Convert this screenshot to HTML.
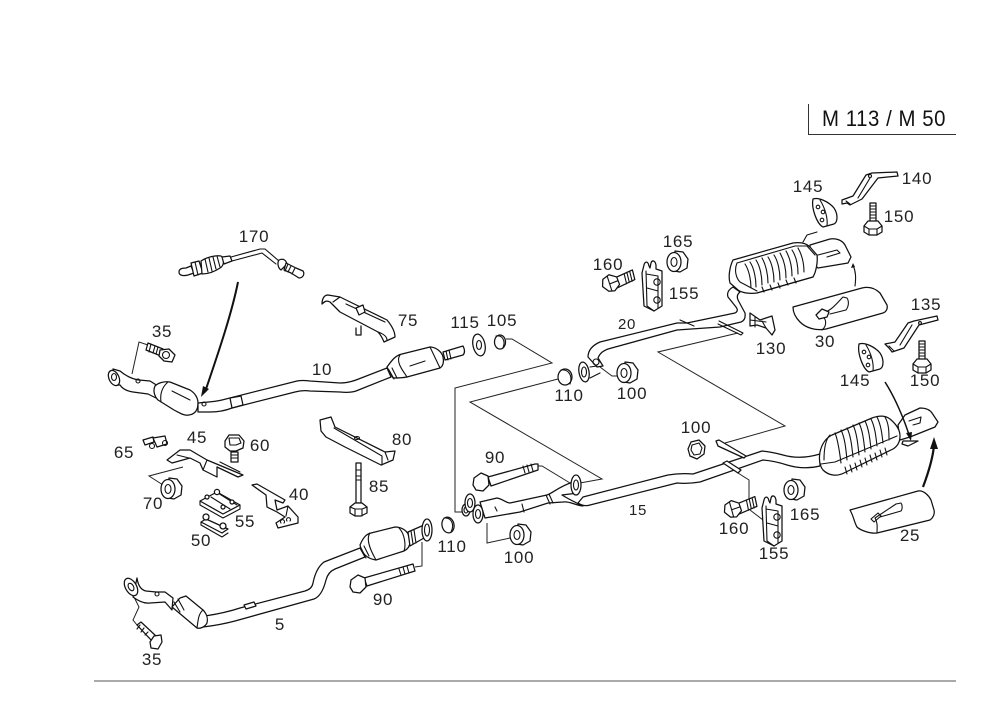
<!DOCTYPE html>
<html lang="en">
<head>
<meta charset="utf-8">
<title>M 113 / M 50 exhaust diagram</title>
<style>
html,body{margin:0;padding:0;background:#fff}
svg{display:block}
.p{fill:#fff;stroke:#111;stroke-width:1.25;stroke-linejoin:round;stroke-linecap:round}
.l{fill:none;stroke:#111;stroke-width:1.1;stroke-linejoin:round;stroke-linecap:round}
.c{fill:none;stroke:#222;stroke-width:1;stroke-linejoin:miter}
.t{font:17px "Liberation Sans",sans-serif;fill:#222;text-anchor:middle;letter-spacing:.7px}
</style>
</head>
<body>
<svg width="1000" height="707" viewBox="0 0 1000 707" xmlns="http://www.w3.org/2000/svg">
<defs>
<g id="nut"><polygon class="p" points="-2,-11 6,-10 11,-3 10,6 3,10 -3,9"/><ellipse class="p" cx="-3" cy="0" rx="7" ry="9.5"/><ellipse class="l" cx="-3" cy="0" rx="3" ry="4.5"/></g>
<g id="bolt"><path class="p" d="M0-4 L22-8 V2 L2 6Z"/><path class="l" d="M13-6V4M16-7V3M19-7V3"/><polygon class="p" points="-9,-6 -2,-9 5,-5 6,3 0,8 -6,7 -11,1"/><path class="l" d="M-4-8 L-3 7M-3 0 L5 -1"/></g>
<g id="iso"><path class="p" d="M-12-13 C-6-15 4-10 9-4 C13 2 13 10 9 12 L-2 15 C-8 12 -14-4 -12-13Z"/><path class="l" d="M-5-12 C0-4 3 6 2 14"/><circle class="l" cx="-7" cy="-5" r="1.8"/><circle class="l" cx="-2" cy="0" r="1.8"/><circle class="l" cx="-3" cy="8" r="1.8"/></g>
<g id="stud"><path class="p" d="M-3-21H3V0H-3Z"/><path class="l" d="M-3-18H3M-3-15H3M-3-12H3M-3-9H3M-3-6H3M-3-3H3"/><path class="p" d="M-9 2 L-5-3H5L9 2V8L4 11H-4L-9 8Z"/><path class="l" d="M-9 2 L-4 5H4L9 2M-4 5V11M4 5V11"/></g>
<g id="clamp"><path class="p" d="M0 3 L2-5 C3-9 6-9 7-4 L8-2 L9-7 C10-10 13-10 14-5 L14-1 L20 1 V36 L12 41 L2 36Z"/><path class="l" d="M4 1 L5 36 L12 41 M4 4 L16 6 V38 M5 18 L16 21"/><circle class="l" cx="15" cy="12" r="3.2"/><circle class="l" cx="15" cy="30" r="3.2"/></g>
</defs>

<!-- header and frame -->
<path d="M808.5 104V134.5H956" fill="none" stroke="#333" stroke-width="1"/>
<text x="884" y="126" style="font:22px 'Liberation Sans',sans-serif;fill:#111;text-anchor:middle;letter-spacing:.6px" textLength="124" lengthAdjust="spacingAndGlyphs">M 113 / M 50</text>
<line x1="94" y1="681" x2="956" y2="681" stroke="#555" stroke-width="1"/>

<!-- 170 sensor -->
<path class="p" d="M179 272 C179 269 182 268 186 268 L191 266 L194 273 L188 275 C184 276 179 276 179 272Z"/>
<path class="p" d="M191 263 L199 261 L203 273 L194 276Z"/>
<path class="l" d="M195 262 L198 275"/>
<path class="p" d="M201 261 C207 257 216 255 221 256 C225 258 224 266 220 268 C214 272 207 274 202 274Z"/>
<path class="l" d="M205 259 L208 272M209 258 L212 271M213 257 L216 269M217 256 L220 267"/>
<path class="p" d="M222 257 L230 256 L232 261 L224 264Z"/>
<path class="l" d="M231 257 L260 249 L265 249 L279 261 M232 261 L262 253 L276 264"/>
<path class="p" d="M279 260 C283 258 286 260 287 264 L281 270 C278 268 277 263 279 260Z"/>
<path class="p" d="M286 263 L296 268 L303 271 C305 274 303 278 299 278 L291 273 L284 270Z"/>
<path class="l" d="M288 264 L285 271M291 266 L288 272M295 268 L292 274"/>
<!-- big arrow to 10 -->
<path d="M238 282 C232 312 220 348 205 392" fill="none" stroke="#111" stroke-width="2"/>
<polygon points="201,397 203,386 209,389" fill="#111"/>

<!-- 35 top -->
<path class="c" d="M132 374 L139 342 L148 345"/>
<path class="p" d="M148 343 L163 349 L161 356 L146 350Z"/><path class="l" d="M151 344 L149 352M155 346 L153 353M158 347 L156 354"/>
<polygon class="p" points="160,350 169,349 175,355 172,362 164,361 159,356"/><ellipse class="l" cx="166" cy="355" rx="3.5" ry="3.5"/>

<!-- pipe 10 -->
<path class="p" d="M113 369 L120 371 C126 376 132 379 139 380 L150 381 L158 386 L156 398 L148 394 L133 392 C126 391 122 388 120 385 L116 385Z"/>
<ellipse class="p" cx="114" cy="378" rx="5" ry="8" transform="rotate(-25 114 378)"/><ellipse class="l" cx="114" cy="377" rx="2.5" ry="3.5"/>
<circle class="l" cx="138" cy="381" r="2"/>
<path class="p" d="M155 386 C158 383 164 381 170 382 L190 390 C195 393 198 398 198 403 C198 409 196 414 189 415 C184 416 180 413 174 410 L158 400 C154 396 153 390 155 386Z"/>
<path class="l" d="M168 382 C161 388 160 395 161 402M172 391 L190 400"/>
<path class="p" d="M198 403 C206 402 214 402 222 400 L297 381 Q302 380 310 381 L340 383 Q348 383 356 380 L387 368 L391 377 L356 391 Q350 393 340 392 L310 391 Q302 390 295 392 L232 408 Q222 412 210 412 L198 412Z"/>
<circle class="l" cx="204" cy="404" r="2"/>
<path class="p" d="M230 398 L241 396 L243 405 L232 408Z"/>
<path class="p" d="M387 367 C392 360 396 355 402 354 L430 347 C436 347 442 352 443 357 C444 362 443 366 440 368 L407 377 C402 378 396 378 393 378Z"/>
<path class="l" d="M400 355 C395 362 404 372 407 377M389 370 L394 379M392 368 L397 378M410 366 L425 361M430 347 L440 368"/>
<path class="p" d="M443 352 L463 346 C465 350 465 353 463 355 L445 360Z"/>
<path class="l" d="M446 351 L448 360M449 350 L451 359"/>

<!-- 115, 105 -->
<ellipse class="p" cx="479" cy="345" rx="6" ry="11" transform="rotate(-12 479 345)"/><ellipse class="l" cx="479" cy="345" rx="2.5" ry="4.5"/>
<ellipse class="p" cx="500" cy="342" rx="5.5" ry="7"/><path class="l" d="M496 336 C502 335 506 340 503 348"/>
<!-- connectors centre -->
<path class="c" d="M506 339 L512 339 L552 363 L455 388 L455 512 L463 512"/>
<path class="c" d="M558 379 L470 402 L602 479 L580 483"/>
<path class="c" d="M738 333 L658 352 L785 426 L725 443"/>
<path class="c" d="M600 367 L612 376 L617 376"/>
<path class="c" d="M538 466 L542 466 L570 483"/>
<path class="c" d="M487 523 V543 L510 538"/>
<path class="c" d="M422 542 V566 L415 567"/>
<path class="c" d="M738 473 L749 480 V500"/>
<path class="c" d="M750 510 L763 520"/>
<path class="c" d="M183 467 L149 476 L163 485"/>
<path class="c" d="M133 595 L139 607 L133 620 L137 625"/>

<!-- 75 -->
<path class="p" d="M322 304 C322 299 324 295 328 295 L340 297 L387 320 C392 326 395 332 395 337 L384 342 C382 337 380 334 378 332 L340 312 L330 302 C326 300 324 302 322 304Z"/>
<path class="l" d="M340 297 L333 302M346 304 L385 322 M378 332 C384 334 387 337 387 340"/>
<path class="p" d="M356 308 L363 305 L365 312 L359 315Z"/>
<path class="p" d="M356 328 V335 H361 V326"/>

<!-- 80 -->
<path class="p" d="M320 420 L331 417 L335 427 L385 452 L395 451 L393 460 L381 465 L345 447 L326 437 L321 431Z"/>
<path class="l" d="M334 428 L382 456 L382 465M385 452 L388 460"/>
<ellipse class="l" cx="357" cy="438" rx="2.5" ry="1.5"/>

<!-- 85 -->
<path class="p" d="M356 463 H361 V503 H356Z"/>
<path class="l" d="M356 470H361M356 476H361M356 480H361"/>
<path class="p" d="M350 507 L355 503 H362 L367 507 V513 L361 516 H355 L350 513Z"/>
<path class="l" d="M350 507 L355 509 H362 L367 507M355 509V516M362 509V516"/>

<!-- 65 -->
<path class="p" d="M143 440 L153 437 L154 442 L145 445Z M153 438 L165 436 L167 444 L157 447Z"/>
<circle class="l" cx="152" cy="446" r="2.5"/><circle class="l" cx="165" cy="443" r="2.5"/>

<!-- 45 -->
<path class="p" d="M167 460 L180 450 L190 450 L207 460 L243 475 L238 477 L217 467 L217 477 L203 470 L200 463 L190 458 L172 463Z"/>
<path class="l" d="M207 460 L203 470M177 455 L189 458M220 462 L240 472"/>
<!-- 60 -->
<path class="p" d="M231 452 H238 V462 H231Z"/><path class="l" d="M231 455H238M231 458H238"/>
<path class="p" d="M225 441 L229 435 H239 L244 441 L243 448 L236 451 H230 L225 447Z"/><path class="l" d="M229 438 H239 L241 443 L236 445 H230 Z"/>
<!-- 70 -->
<use href="#nut" x="171" y="489"/>
<!-- 40 -->
<path class="p" d="M252 485 L257 484 L285 500 L283 503 L275 500 L277 510 L288 506 L298 517 L298 523 L278 528 L276 523 L285 517 L277 512 L267 507 L266 495Z"/>
<path class="l" d="M288 506 L286 516M281 523 a2 2 0 1 1 3 0M287 521 a2 2 0 1 1 3 0"/>
<!-- 55 -->
<path class="p" d="M200 501 L217 492 L240 505 L223 514Z"/>
<path class="l" d="M200 501 V505 L223 518 L240 509 V505M211 497 L230 509M218 493 L237 505"/>
<circle class="p" cx="217" cy="492" r="2.6"/><circle class="p" cx="207" cy="497" r="2"/><circle class="p" cx="232" cy="502" r="2"/><circle class="p" cx="223" cy="507" r="2"/>
<!-- 50 -->
<path class="p" d="M201 522 L206 519 L228 529 L222 533Z"/><path class="l" d="M201 522 V525 L222 537 L228 533"/>
<circle class="p" cx="206" cy="517" r="3"/><circle class="p" cx="223" cy="526" r="3"/>

<!-- pipe 5 -->
<path class="p" d="M205 616 Q225 613 240 608 L305 591 Q312 589 313 583 Q316 568 324 562 L360 548 L365 557 L335 569 Q328 572 326 580 Q322 596 314 599 L235 621 Q220 625 203 627Z"/>
<path class="p" d="M244 605 L254 602 L256 606 L246 609Z"/>
<path class="p" d="M137 578 C138 585 141 590 146 591 L156 592 L165 592 L173 598 L172 610 L165 602 L150 603 C143 604 137 600 133 597Z"/>
<ellipse class="p" cx="131" cy="587" rx="5.5" ry="9.5" transform="rotate(-30 131 587)"/><ellipse class="l" cx="131" cy="587" rx="2.5" ry="4" transform="rotate(-30 131 587)"/>
<circle class="l" cx="157" cy="594" r="2"/>
<path class="p" d="M172 607 L180 598 L186 596 L203 610 C207 614 208 619 207 623 C205 627 200 629 197 628 Z"/>
<path class="l" d="M174 602 L180 612M178 599 L184 610M203 610 C198 614 198 622 197 628"/>
<path class="p" d="M360 545 C363 538 366 534 371 533 L395 527 C402 527 408 531 409 537 C411 543 410 548 404 551 L376 560 C369 559 362 555 360 545Z"/>
<path class="l" d="M370 533 C365 540 372 553 376 560M399 528 C405 534 406 546 404 551 M361 548 L366 558M364 546 L369 556"/>
<path class="p" d="M408 532 L424 525 V538 L410 546Z"/>
<path class="l" d="M411 531 L413 544M414 530 L416 543"/>
<ellipse class="p" cx="427" cy="530" rx="5" ry="11"/><ellipse class="l" cx="427" cy="530" rx="2.5" ry="6"/>
<!-- 110 low -->
<ellipse class="p" cx="448" cy="525" rx="6" ry="8" transform="rotate(-12 448 525)"/><path class="l" d="M444 518 C451 517 455 524 451 532"/>
<!-- 90 low -->
<path class="p" d="M364 578 L413 564 L415 571 L367 586Z"/><path class="l" d="M399 569 L401 575M403 567 L405 574M407 566 L409 573"/>
<polygon class="p" points="351,580 358,575 365,578 366,587 360,593 353,592 350,587"/>
<!-- 35 low -->
<path class="p" d="M137 625 L141 622 L156 636 L152 641Z"/><path class="l" d="M140 625 L137 629M144 628 L141 632M148 632 L145 635"/>
<polygon class="p" points="150,642 154,636 161,635 162,642 158,649 151,648"/>

<!-- 90 upper -->
<path class="p" d="M488 477 L535 464 H538 V470 L491 486Z"/><path class="l" d="M523 466 L525 473M527 465 L529 472M531 464 L533 471"/>
<polygon class="p" points="474,478 481,473 488,476 489,485 483,491 476,490 473,485"/>

<!-- Y pipe -->
<path class="p" d="M480 502 L497 498 C503 499 506 503 510 503 L547 495 C553 493 558 487 573 482 L578 493 L562 495 Q570 500 583 506 C574 505 570 501 563 502 L548 503 L520 512 L485 518Z"/>
<path class="l" d="M546 495 L550 504M549 494 L553 503M522 504 L524 512M495 507 L497 511"/>
<ellipse class="p" cx="576" cy="485" rx="5" ry="10"/><ellipse class="l" cx="576" cy="485" rx="2.5" ry="5"/>
<ellipse class="p" cx="466" cy="510" rx="4" ry="6"/><ellipse class="l" cx="466" cy="510" rx="2" ry="3"/>
<ellipse class="p" cx="470" cy="503" rx="5" ry="9"/><ellipse class="l" cx="470" cy="503" rx="2.5" ry="4.5"/>
<ellipse class="p" cx="478" cy="514" rx="5" ry="9"/><ellipse class="l" cx="478" cy="514" rx="2.5" ry="4.5"/>

<!-- pipe 15 -->
<path class="p" d="M583 497 L668 475 Q680 473 693 474 L762 451 Q772 452 783 455 Q800 460 820 454 L820 466 Q804 470 787 465 Q775 461 763 460 L700 482 Q688 484 677 483 L590 505 Q584 507 578 503Z"/>
<path class="p" d="M723 463 L727 461 L741 470 L738 473Z"/>
<path class="p" d="M716 441 L719 440 L746 456 L744 458 L718 446Z"/>

<!-- rear muffler -->
<path class="p" d="M898 425 L905 415 L920 408 C926 408 930 410 932 413 L938 422 L935 427 L910 437 L900 440Z"/>
<path class="l" d="M909 421 L921 417 L920 423 L913 425"/>
<path class="p" d="M820 452 C822 443 826 438 832 435 L872 418 C880 415 886 416 890 419 C896 424 900 430 900 436 C900 441 898 446 893 449 L844 473 C836 477 828 475 823 470 C819 465 819 458 820 452Z"/>
<path class="l" d="M821 464 L835 462 L897 436M830 435 C825 440 824 452 824 460M835 433 C838 440 840 455 841 463M841 430 C845 438 846 450 847 460M847 428 C851 436 852 448 853 457M853 425 C857 433 858 446 859 455M859 423 C863 431 864 443 865 452M865 421 C869 429 870 440 871 449M871 419 C875 427 876 437 877 446M877 417 C881 425 882 434 883 443M885 417 C889 424 889 432 889 440"/>
<path class="l" d="M845 467 L847 474M850 465 L852 472M855 463 L857 470M860 460 L862 467M865 458 L867 465M870 455 L872 462M875 453 L877 460M880 450 L882 457M885 448 L887 455"/>
<path class="p" d="M903 441 L918 441 L908 446 L902 444Z"/>
<!-- arrows rear -->
<path d="M885 382 C894 396 904 418 910 438" fill="none" stroke="#111" stroke-width="1.5"/>
<polygon points="911,441 906,433 912,432" fill="#111"/>
<path d="M923 487 C929 471 933 458 934 445" fill="none" stroke="#111" stroke-width="2.2"/>
<polygon points="934,437 930,449 938,449" fill="#111"/>

<!-- 25 shield -->
<path class="p" d="M850 510 L918 491 C924 490 929 496 931 500 L934 510 C935 514 933 518 930 520 L877 533 C870 534 860 530 857 527 C854 522 854 517 850 510Z"/>
<path class="l" d="M877 533 C877 528 878 523 875 518 L896 504 L901 503 C903 506 902 510 901 511 L880 517"/>
<path class="l" d="M871 519 L878 513 L881 516 L874 522Z"/>

<!-- pipe 20 -->
<path class="p" d="M588 357 C588 351 591 346 600 342 L677 323 L687 323 L735 313 Q739 311 736 307 L728 297 Q726 291 733 287 L740 292 Q736 295 738 300 L745 313 Q746 320 741 322 L720 327 L677 330 L608 349 C603 351 600 353 598 358 L603 366 L597 367Z"/>
<path class="l" d="M680 320 L694 326M719 321 L743 333 L741 335 L718 324"/>
<circle class="l" cx="596" cy="362" r="3"/>
<ellipse class="p" cx="584" cy="372" rx="5" ry="10" transform="rotate(-10 584 372)"/><ellipse class="l" cx="584" cy="372" rx="2.5" ry="5"/>
<path class="l" d="M590 367 L597 366M590 378 L600 373"/>
<ellipse class="p" cx="565" cy="377" rx="7" ry="8"/><path class="l" d="M561 370 C568 369 573 375 570 384"/>
<use href="#nut" x="627" y="373"/>
<use href="#nut" x="520" y="535"/>
<polygon class="p" points="691,442 699,440 705,446 704,454 697,459 690,456 688,449"/><path class="l" d="M692 445 L699 443 L702 448 L700 454 L694 455 L691 450Z"/>
<!-- upper muffler -->
<path class="p" d="M810 245 L830 239 C836 238 842 240 845 245 L851 257 L848 263 L818 268 L810 262Z"/>
<path class="l" d="M818 255 L837 250 L840 253 L827 257"/>
<path class="l" d="M803 242 L807 235 L817 232"/>
<path class="p" d="M733 260 L793 243 C800 242 806 243 810 247 L817 255 C818 262 816 272 813 277 L757 293 C750 294 742 293 738 290 L730 283 C728 276 730 266 733 260Z"/>
<path class="l" d="M737 263 L795 246 L807 246 L815 255M737 263 C734 270 736 278 740 282 L757 291M745 264 C749 270 751 280 751 288M750 262 C754 268 756 278 756 287M756 260 C760 266 762 276 762 285M762 258 C766 265 768 275 768 283M768 257 C772 263 774 273 774 282M774 255 C778 261 780 271 780 280M780 253 C784 260 786 269 786 278M786 251 C790 258 792 267 792 276M792 250 C796 256 798 265 798 274M798 248 C802 255 804 263 804 272"/>
<path class="l" d="M757 293 L813 277M762 287 L764 292M770 285 L772 290M778 283 L780 288M786 280 L788 285M794 278 L796 283"/>
<!-- 155 / 160 / 165 top -->
<use href="#clamp" x="642" y="270"/>
<use href="#bolt" x="613" y="283" transform="rotate(-14 613 283)"/>
<use href="#nut" x="677" y="262"/>
<!-- 155 / 160 / 165 low -->
<use href="#clamp" x="762" y="505"/>
<use href="#bolt" x="735" y="509" transform="rotate(-12 735 509)"/>
<use href="#nut" x="794" y="490"/>
<!-- 130 -->
<path class="p" d="M750 313 L760 320 L772 316 L775 330 L772 335 L766 328 L757 325 L750 326Z"/>
<path class="l" d="M750 320 L766 322M755 317 L755 327M762 321 L766 328"/>
<!-- 30 shield -->
<path class="p" d="M793 307 L862 288 C870 286 876 289 880 293 L887 305 C888 309 886 312 883 313 L826 329 C816 331 806 328 800 322 C796 318 793 313 793 307Z"/>
<path class="l" d="M825 312 C832 310 838 302 843 297 L847 298 C849 301 849 306 846 310 L830 314M822 330 C827 326 826 320 824 318"/>
<path class="p" d="M816 315 L822 309 L829 312 L827 317 L819 319Z"/>
<!-- thin arrow -->
<path class="l" d="M855 286 C856 278 856 272 853 265"/><path d="M853 263 L851 268 L855 267Z" fill="#111"/>
<!-- 145 top / bracket 140 / 150 -->
<use href="#iso" x="825" y="212"/>
<path class="p" d="M842 200 L853 196 L866 175 L872 173 L897 172 L898 176 L878 178 L862 199 L850 205 L847 203 L842 204Z"/>
<path class="l" d="M858 198 L870 178M846 201 L850 204"/><circle class="l" cx="870" cy="176" r="1.5"/>
<use href="#stud" x="873" y="224"/>
<!-- 145 lower / bracket 135 / 150 -->
<use href="#iso" x="871" y="357"/>
<path class="p" d="M885 344 L895 342 L908 323 L914 321 L937 316 L938 320 L919 325 L904 348 L892 352 L889 348Z"/>
<path class="l" d="M900 345 L912 325M889 346 L894 351"/><circle class="l" cx="920" cy="323" r="1.4"/>
<use href="#stud" x="922" y="362"/>

<!-- labels -->
<g>
<text class="t" x="254" y="242">170</text>
<text class="t" x="162" y="337">35</text>
<text class="t" x="408" y="326">75</text>
<text class="t" x="465" y="328">115</text>
<text class="t" x="502" y="326">105</text>
<text class="t" x="322" y="375">10</text>
<text class="t" x="124" y="458">65</text>
<text class="t" x="197" y="443">45</text>
<text class="t" x="260" y="451">60</text>
<text class="t" x="402" y="445">80</text>
<text class="t" x="153" y="509">70</text>
<text class="t" x="299" y="500">40</text>
<text class="t" x="379" y="492">85</text>
<text class="t" x="245" y="527">55</text>
<text class="t" x="201" y="546">50</text>
<text class="t" x="280" y="630">5</text>
<text class="t" x="383" y="605">90</text>
<text class="t" x="152" y="665">35</text>
<text class="t" x="452" y="552">110</text>
<text class="t" x="519" y="563">100</text>
<text class="t" x="495" y="463">90</text>
<text class="t" x="638" y="515" style="font-size:15px">15</text>
<text class="t" x="569" y="401">110</text>
<text class="t" x="632" y="399">100</text>
<text class="t" x="696" y="433">100</text>
<text class="t" x="608" y="270">160</text>
<text class="t" x="678" y="247">165</text>
<text class="t" x="684" y="299">155</text>
<text class="t" x="627" y="329" style="font-size:15px">20</text>
<text class="t" x="771" y="354">130</text>
<text class="t" x="825" y="347">30</text>
<text class="t" x="808" y="192">145</text>
<text class="t" x="917" y="184">140</text>
<text class="t" x="899" y="222">150</text>
<text class="t" x="926" y="310">135</text>
<text class="t" x="855" y="386">145</text>
<text class="t" x="925" y="386">150</text>
<text class="t" x="734" y="534">160</text>
<text class="t" x="805" y="520">165</text>
<text class="t" x="774" y="559">155</text>
<text class="t" x="910" y="541">25</text>
</g>
</svg>
</body>
</html>
